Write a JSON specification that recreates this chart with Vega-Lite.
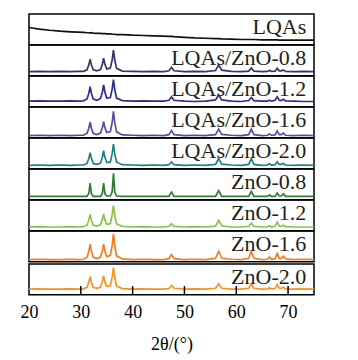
{
  "$schema": "https://vega.github.io/schema/vega-lite/v6.json",
  "padding": {"left": 19, "top": 13, "right": 0, "bottom": 0},
  "background": "white",
  "spacing": 0,
  "data": {"values": [
    {"x":20,"L":56,"a":13,"b":18,"c":7,"d":11,"e":11,"f":12,"g":7,"h":18},
    {"x":22,"L":51,"a":14,"b":19,"c":8,"d":12,"e":11,"f":13,"g":8,"h":19},
    {"x":24,"L":47,"a":13,"b":18,"c":7,"d":11,"e":11,"f":12,"g":7,"h":18},
    {"x":26,"L":44,"a":14,"b":18,"c":8,"d":12,"e":11,"f":12,"g":7,"h":18},
    {"x":28,"L":42,"a":13,"b":19,"c":7,"d":11,"e":11,"f":13,"g":8,"h":19},
    {"x":29.5,"L":41,"a":14,"b":18,"c":8,"d":12,"e":11,"f":12,"g":7,"h":18},
    {"x":30.5,"L":40,"a":14,"b":19,"c":8,"d":12,"e":11,"f":13,"g":8,"h":19},
    {"x":31.2,"L":39,"a":19,"b":25,"c":14,"d":17,"e":11,"f":18,"g":14,"h":24},
    {"x":31.55,"L":39,"a":36,"b":44,"c":31,"d":34,"e":20,"f":35,"g":34,"h":41},
    {"x":31.8,"L":38,"a":54,"b":65,"c":51,"d":52,"e":54,"f":53,"g":57,"h":59},
    {"x":32.05,"L":39,"a":35,"b":43,"c":30,"d":33,"e":19,"f":34,"g":34,"h":40},
    {"x":32.4,"L":38,"a":19,"b":25,"c":14,"d":17,"e":11,"f":18,"g":14,"h":24},
    {"x":33.1,"L":37,"a":16,"b":21,"c":10,"d":14,"e":11,"f":15,"g":10,"h":21},
    {"x":33.8,"L":37,"a":20,"b":27,"c":15,"d":18,"e":11,"f":19,"g":15,"h":25},
    {"x":34.15,"L":36,"a":37,"b":47,"c":32,"d":37,"e":20,"f":36,"g":35,"h":42},
    {"x":34.4,"L":36,"a":57,"b":71,"c":52,"d":59,"e":54,"f":55,"g":57,"h":61},
    {"x":34.65,"L":36,"a":37,"b":47,"c":32,"d":37,"e":19,"f":35,"g":34,"h":41},
    {"x":35.0,"L":35,"a":22,"b":28,"c":17,"d":20,"e":12,"f":21,"g":17,"h":27},
    {"x":35.7,"L":35,"a":25,"b":30,"c":20,"d":22,"e":12,"f":23,"g":20,"h":29},
    {"x":36.05,"L":34,"a":52,"b":57,"c":50,"d":49,"e":26,"f":51,"g":53,"h":57},
    {"x":36.3,"L":34,"a":83,"b":88,"c":86,"d":80,"e":86,"f":82,"g":90,"h":88},
    {"x":36.55,"L":34,"a":51,"b":56,"c":49,"d":48,"e":25,"f":50,"g":52,"h":56},
    {"x":36.9,"L":33,"a":24,"b":28,"c":19,"d":21,"e":12,"f":22,"g":19,"h":28},
    {"x":38,"L":33,"a":15,"b":20,"c":9,"d":13,"e":11,"f":14,"g":9,"h":20},
    {"x":40,"L":31,"a":14,"b":18,"c":8,"d":12,"e":11,"f":12,"g":7,"h":18},
    {"x":42,"L":30,"a":13,"b":19,"c":7,"d":11,"e":11,"f":13,"g":8,"h":19},
    {"x":44,"L":29,"a":14,"b":18,"c":8,"d":12,"e":11,"f":12,"g":7,"h":18},
    {"x":46,"L":28,"a":13,"b":18,"c":7,"d":11,"e":11,"f":12,"g":7,"h":18},
    {"x":47.0,"L":27,"a":16,"b":21,"c":10,"d":13,"e":11,"f":14,"g":10,"h":20},
    {"x":47.5,"L":27,"a":27,"b":32,"c":23,"d":22,"e":25,"f":23,"g":23,"h":30},
    {"x":48.0,"L":26,"a":16,"b":21,"c":10,"d":13,"e":11,"f":14,"g":10,"h":21},
    {"x":50,"L":24,"a":13,"b":18,"c":7,"d":11,"e":11,"f":12,"g":7,"h":18},
    {"x":52,"L":22,"a":14,"b":17,"c":8,"d":12,"e":11,"f":13,"g":8,"h":19},
    {"x":54,"L":21,"a":13,"b":18,"c":7,"d":11,"e":11,"f":12,"g":7,"h":18},
    {"x":56.0,"L":20,"a":17,"b":22,"c":10,"d":14,"e":11,"f":15,"g":11,"h":21},
    {"x":56.6,"L":20,"a":35,"b":38,"c":28,"d":33,"e":30,"f":33,"g":34,"h":35},
    {"x":57.2,"L":19,"a":18,"b":22,"c":11,"d":15,"e":11,"f":16,"g":11,"h":21},
    {"x":59,"L":18,"a":14,"b":18,"c":8,"d":12,"e":11,"f":12,"g":8,"h":18},
    {"x":61,"L":17,"a":13,"b":17,"c":7,"d":11,"e":11,"f":12,"g":7,"h":18},
    {"x":62.4,"L":17,"a":15,"b":20,"c":10,"d":14,"e":11,"f":14,"g":11,"h":21},
    {"x":62.9,"L":17,"a":25,"b":30,"c":28,"d":33,"e":27,"f":25,"g":34,"h":35},
    {"x":63.4,"L":17,"a":15,"b":20,"c":10,"d":14,"e":11,"f":14,"g":11,"h":21},
    {"x":65,"L":16,"a":13,"b":18,"c":7,"d":11,"e":11,"f":12,"g":7,"h":18},
    {"x":66.0,"L":16,"a":14,"b":18,"c":8,"d":12,"e":11,"f":12,"g":8,"h":19},
    {"x":66.4,"L":16,"a":17,"b":21,"c":12,"d":16,"e":15,"f":16,"g":15,"h":22},
    {"x":66.8,"L":16,"a":14,"b":18,"c":8,"d":12,"e":11,"f":12,"g":8,"h":19},
    {"x":67.5,"L":16,"a":15,"b":21,"c":9,"d":13,"e":11,"f":15,"g":10,"h":20},
    {"x":67.9,"L":16,"a":24,"b":32,"c":22,"d":22,"e":22,"f":28,"g":27,"h":33},
    {"x":68.3,"L":15,"a":16,"b":21,"c":10,"d":14,"e":12,"f":15,"g":11,"h":21},
    {"x":68.7,"L":15,"a":16,"b":20,"c":10,"d":14,"e":12,"f":14,"g":11,"h":21},
    {"x":69.1,"L":15,"a":19,"b":24,"c":15,"d":17,"e":19,"f":18,"g":18,"h":24},
    {"x":69.5,"L":15,"a":14,"b":19,"c":8,"d":12,"e":11,"f":13,"g":9,"h":19},
    {"x":71,"L":15,"a":13,"b":18,"c":7,"d":11,"e":11,"f":12,"g":7,"h":18},
    {"x":73,"L":15,"a":14,"b":17,"c":8,"d":12,"e":11,"f":12,"g":8,"h":19},
    {"x":75,"L":15,"a":13,"b":17,"c":7,"d":11,"e":11,"f":12,"g":7,"h":18}
  ]},
  "transform": [
    {"fold": ["L","a","b","c","d","e","f","g","h"], "as": ["k","v"]},
    {"lookup": "k", "from": {"data": {"values": [
      {"k":"L","name":"LQAs"},
      {"k":"a","name":"LQAs/ZnO-0.8"},
      {"k":"b","name":"LQAs/ZnO-1.2"},
      {"k":"c","name":"LQAs/ZnO-1.6"},
      {"k":"d","name":"LQAs/ZnO-2.0"},
      {"k":"e","name":"ZnO-0.8"},
      {"k":"f","name":"ZnO-1.2"},
      {"k":"g","name":"ZnO-1.6"},
      {"k":"h","name":"ZnO-2.0"}
    ]}, "key": "k", "fields": ["name"]}}
  ],
  "vconcat": [
    {
      "transform": [{"filter": "datum.k != 'h'"}],
      "facet": {"row": {"field": "k", "type": "nominal", "sort": ["L","a","b","c","d","e","f","g"], "header": null}},
      "spacing": {"row": 0},
      "bounds": "flush",
      "spec": {
        "width": 285,
        "height": 30.7,
        "layer": [
          {
            "mark": {"type": "line", "strokeWidth": 1.7, "clip": true},
            "encoding": {
              "x": {"field": "x", "type": "quantitative", "scale": {"domain": [20, 75], "nice": false, "zero": false}, "axis": null},
              "y": {"field": "v", "type": "quantitative", "scale": {"domain": [0, 100]}, "axis": null},
              "color": {"field": "k", "type": "nominal",
                "scale": {"domain": ["L","a","b","c","d","e","f","g","h"],
                  "range": ["#111111","#34346e","#2b2f8c","#5a4aa8","#1f8080","#2e7d32","#8bc34a","#f57c20","#f7931e"]},
                "legend": null}
            }
          },
          {
            "transform": [{"filter": "datum.x == 20"}],
            "mark": {"type": "text", "align": "right", "baseline": "alphabetic", "font": "Times New Roman", "fontSize": 22, "color": "#231f20"},
            "encoding": {
              "x": {"datum": 73.5, "type": "quantitative"},
              "y": {"datum": 35, "type": "quantitative"},
              "text": {"field": "name"}
            }
          }
        ]
      }
    },
    {
      "transform": [{"filter": "datum.k == 'h'"}],
      "width": 285,
      "height": 30.7,
      "layer": [
        {
          "mark": {"type": "line", "strokeWidth": 1.7, "clip": true},
          "encoding": {
            "x": {"field": "x", "type": "quantitative",
              "scale": {"domain": [20, 75], "nice": false, "zero": false},
              "axis": {"values": [20,30,40,50,60,70], "title": "2θ/(°)", "grid": false, "domain": false,
                "ticks": false, "tickSize": 0, "labelFlush": false,
                "labelFont": "Times New Roman", "labelFontSize": 18, "labelColor": "black", "labelPadding": 9,
                "titleFont": "Times New Roman", "titleFontSize": 18, "titleFontWeight": "normal", "titleColor": "black", "titlePadding": 14}},
            "y": {"field": "v", "type": "quantitative", "scale": {"domain": [0, 100]}, "axis": null},
            "color": {"field": "k", "type": "nominal",
              "scale": {"domain": ["L","a","b","c","d","e","f","g","h"],
                "range": ["#111111","#34346e","#2b2f8c","#5a4aa8","#1f8080","#2e7d32","#8bc34a","#f57c20","#f7931e"]},
              "legend": null}
          }
        },
        {
          "transform": [{"filter": "datum.x == 20"}],
          "mark": {"type": "text", "align": "right", "baseline": "alphabetic", "font": "Times New Roman", "fontSize": 22, "color": "#231f20"},
          "encoding": {
            "x": {"datum": 73.5, "type": "quantitative"},
            "y": {"datum": 35, "type": "quantitative"},
            "text": {"field": "name"}
          }
        },
        {
          "data": {"values": [{"t": 30}, {"t": 40}, {"t": 50}, {"t": 60}, {"t": 70}]},
          "mark": {"type": "rule", "color": "black", "strokeWidth": 1.5},
          "encoding": {
            "x": {"field": "t", "type": "quantitative"},
            "y": {"datum": 0, "type": "quantitative"},
            "y2": {"datum": 28}
          }
        }
      ]
    }
  ],
  "config": {"view": {"stroke": "black", "strokeWidth": 1.5}}
}
